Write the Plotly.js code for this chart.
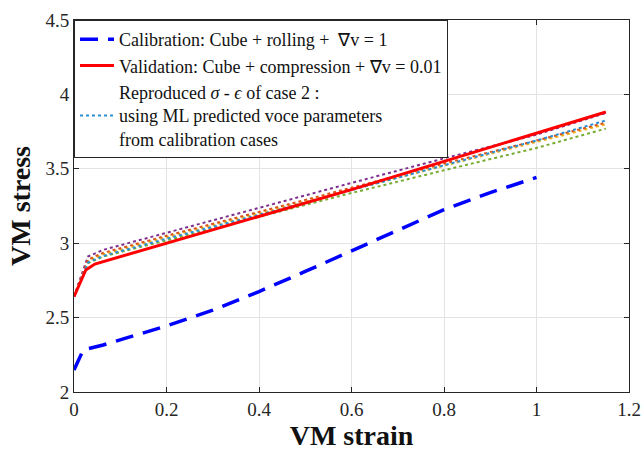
<!DOCTYPE html>
<html>
<head>
<meta charset="utf-8">
<script src="https://cdn.plot.ly/plotly-3.0.1.min.js"></script>
<style>body{margin:0;padding:0;background:#fff;} #chart{width:644px;height:457px;}</style>
</head>
<body>
<div id="chart"></div>
<script>
// Calibration (blue dashed)
const calStrain = [0, 0.02, 0.063, 0.2, 0.3, 0.4, 0.5, 0.6, 0.7, 0.8, 0.9, 1.0];
const calStress = [2.148, 2.283, 2.316, 2.444, 2.55, 2.675, 2.81, 2.95, 3.09, 3.225, 3.34, 3.442];

// Validation (red solid)
const valStrain = [0, 0.0255, 0.045, 0.1, 0.2, 0.4, 0.6, 0.8, 1.0, 1.15];
const valStress = [2.641, 2.82, 2.86, 2.91, 3.0, 3.18, 3.36, 3.55, 3.74, 3.882];

// Reproduced curves (dotted) from ML predicted voce parameters
const mlStrain = [0, 0.03, 0.063, 0.2, 0.4, 0.6, 0.8, 1.0, 1.15];
const mlBlue   = [2.641, 2.87, 2.915, 3.03, 3.19, 3.355, 3.525, 3.69, 3.825];
const mlOrange = [2.641, 2.89, 2.935, 3.05, 3.21, 3.375, 3.535, 3.69, 3.81];
const mlYellow = [2.641, 2.88, 2.925, 3.04, 3.20, 3.36, 3.52, 3.675, 3.80];
const mlPurple = [2.641, 2.91, 2.955, 3.07, 3.24, 3.405, 3.57, 3.73, 3.875];
const mlGreen  = [2.641, 2.865, 2.91, 3.02, 3.18, 3.337, 3.49, 3.64, 3.77];

const xTicks = [0, 0.2, 0.4, 0.6, 0.8, 1, 1.2];
const xTickText = ['0', '0.2', '0.4', '0.6', '0.8', '1', '1.2'];
const yTicks = [2, 2.5, 3, 3.5, 4, 4.5];
const yTickText = ['2', '2.5', '3', '3.5', '4', '4.5'];

const legendNames = [
  'Calibration: Cube + rolling +  ∇v = 1',
  'Validation: Cube + compression + ∇v = 0.01',
  'Reproduced <i>σ</i> - <i>ϵ</i> of case 2 :<br>using ML predicted voce parameters<br>from calibration cases'
];

const serif = 'Liberation Serif, Times New Roman, serif';

function dotted(y, color, name, show, rank) {
  return {x: mlStrain, y: y, mode: 'lines', type: 'scatter', name: name || '',
    showlegend: !!show, legendrank: rank || 1000,
    line: {color: color, width: 2, dash: 'dot'}};
}

const traces = [
  dotted(mlPurple, '#7E2F8E'),
  dotted(mlGreen, '#77AC30'),
  dotted(mlYellow, '#EDB120'),
  dotted(mlOrange, '#D95319'),
  dotted(mlBlue, '#2A8FD6', legendNames[2], true, 3),
  {x: calStrain, y: calStress, mode: 'lines', type: 'scatter', name: legendNames[0],
   legendrank: 1, line: {color: '#0000FF', width: 3.5, dash: '18px,10px'}},
  {x: valStrain, y: valStress, mode: 'lines', type: 'scatter', name: legendNames[1],
   legendrank: 2, line: {color: '#FF0000', width: 3}}
];

const axisCommon = {
  showline: true, mirror: 'ticks', linecolor: '#262626', linewidth: 1,
  ticks: 'inside', ticklen: 5, tickcolor: '#262626',
  showgrid: true, gridcolor: '#E3E3E3', gridwidth: 1, zeroline: false,
  tickfont: {family: serif, size: 19, color: '#262626'}
};

const layout = {
  width: 644, height: 457,
  margin: {l: 74, r: 15, t: 20, b: 65},
  paper_bgcolor: '#fff', plot_bgcolor: '#fff',
  showlegend: true,
  xaxis: Object.assign({}, axisCommon, {
    range: [0, 1.2], tickvals: xTicks, ticktext: xTickText,
    title: {text: '<b>VM strain</b>', font: {family: serif, size: 28, color: '#111'}, standoff: 4}
  }),
  yaxis: Object.assign({}, axisCommon, {
    range: [2, 4.5], tickvals: yTicks, ticktext: yTickText,
    title: {text: '<b>VM stress</b>', font: {family: serif, size: 28, color: '#111'}, standoff: 6}
  }),
  legend: {
    x: 0, y: 1, xanchor: 'left', yanchor: 'top',
    bgcolor: '#fff', bordercolor: '#262626', borderwidth: 1,
    font: {family: serif, size: 18, color: '#111'},
    tracegroupgap: 0, itemwidth: 34
  }
};

Plotly.newPlot('chart', traces, layout, {staticPlot: true, displayModeBar: false});
</script>
</body>
</html>
